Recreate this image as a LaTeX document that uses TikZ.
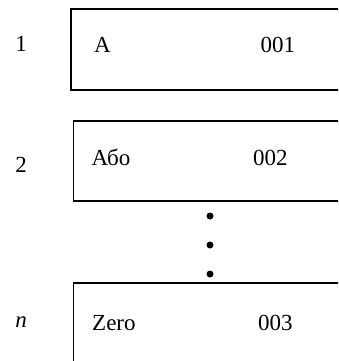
\documentclass[tikz,border=0pt]{standalone}
\usepackage{fontspec}
\setmainfont{Liberation Serif}
\usetikzlibrary{positioning}
\tikzset{
  cell/.style={draw=black,line width=1.8pt,rectangle,anchor=north west,
    minimum width=280pt,minimum height=81pt,inner sep=0pt},
  txt/.style={anchor=base west,inner sep=0pt,font=\fontsize{23}{27}\selectfont},
  idx/.style={anchor=base,inner sep=0pt,font=\fontsize{23}{27}\selectfont},
  dot/.style={circle,fill=black,inner sep=0pt,minimum size=7pt}
}

\begin{document}
\begin{tikzpicture}[x=1pt,y=-1pt]

\useasboundingbox (0,0) rectangle (338,361);
\clip (0,0) rectangle (338,361);

\node[cell] (box1) at (70,8) {};
\node[cell,minimum height=80pt] (box2) at (72.5,120) {};
\node[cell] (box3) at (72.5,282) {};

\node[idx] (idx1) at (21,52) {1};
\node[idx] (idx2) at (21,172) {2};
\node[idx] (idxn) at (21,327) {\textit{n}};

\node[txt] (name1) at (94,52.5) {A};
\node[txt] (code1) at (260.5,52.5) {001};
\node[txt] (name2) at (91.5,165.5) {Або};
\node[txt] (code2) at (253,165.5) {002};
\node[txt] (name3) at (92,330) {Zero};
\node[txt] (code3) at (258,330) {003};

\node[dot] (dot1) at (210,216) {};
\node[dot] (dot2) at (210,245) {};
\node[dot] (dot3) at (210,274) {};
\end{tikzpicture}
\end{document}
